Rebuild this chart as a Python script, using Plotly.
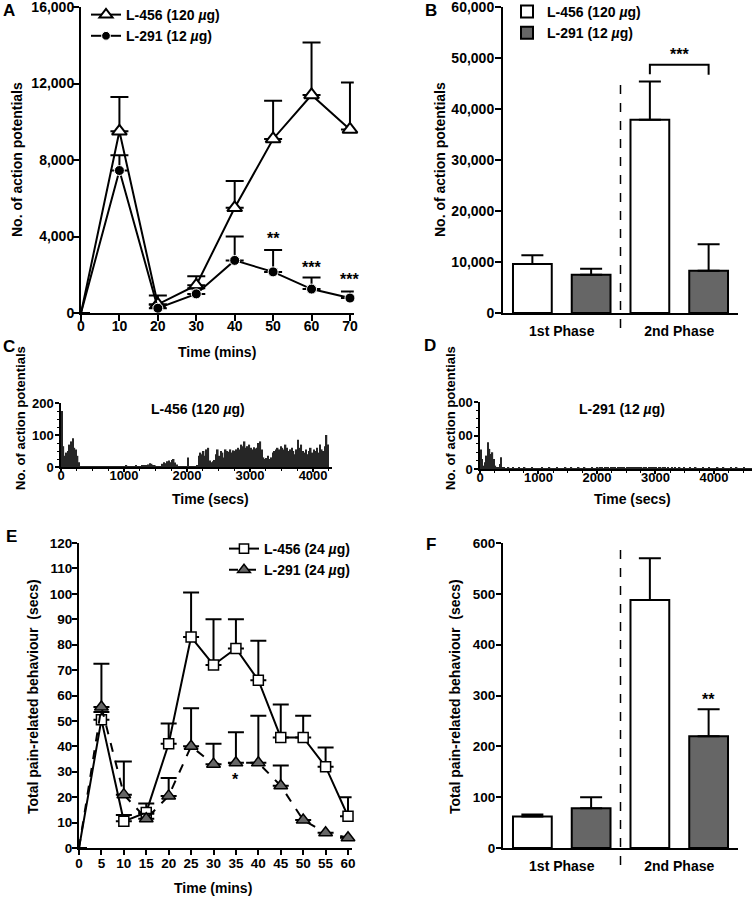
import plotly.graph_objects as go

# ---------------- DATA ----------------
# Panel A: action potentials per 10-min bin
time_A = [0, 10, 20, 30, 40, 50, 60, 70]
l456_A = [0, 9500, 450, 1450, 5500, 9100, 11400, 9600]
l456_A_err = [0, 1800, 460, 470, 1400, 2000, 2750, 2450]
l291_A = [0, 7450, 250, 1000, 2750, 2150, 1250, 780]
l291_A_err = [0, 800, 200, 300, 1250, 1150, 600, 350]
stars_A = ["**", "***", "***"]
stars_A_x = [50, 60, 70]
stars_A_y = [3900, 2400, 1750]

# Panel B: phase totals
phase_labels = ["1st Phase", "2nd Phase"]
l456_B = [9600, 37900]
l456_B_err = [1700, 7500]
l291_B = [7500, 8300]
l291_B_err = [1200, 5200]

# Panel C / D: histograms (25 s bins)
bin_w = 25
hist_C = [175, 65, 35, 45, 50, 70, 80, 90, 60, 55, 35, 15,
          2, 1, 2, 3, 1, 2, 2, 1, 3, 2, 1, 2, 2, 3, 1, 2, 2, 1, 2, 3,
          2, 1, 2, 2, 3, 2, 1, 2, 2, 4, 2, 1, 3, 2, 2, 5, 2, 3, 2, 4,
          4, 5, 6, 8, 12, 10, 6, 4,
          2, 3, 2, 3,
          10, 15, 12, 18, 20, 15, 22, 25, 14, 8,
          3, 2, 3, 2, 3, 2,
          30,
          3, 2, 3, 2, 3, 4,
          35, 45, 40, 50, 35, 55, 60,
          20, 15, 18, 22,
          40, 55, 35, 50, 45, 30,
          55, 50, 48, 55, 45, 52, 50, 55,
          60, 55, 70, 65, 80, 60, 65, 70,
          60, 55, 62, 58, 60, 75, 80, 55,
          30, 25, 28, 35, 25, 30,
          45, 50, 55, 60, 55, 65, 60, 55, 70, 60, 50, 55, 60, 50,
          40, 55, 85, 60, 70, 50,
          45, 55, 40, 50, 60, 45,
          55, 50, 60, 45, 70, 55, 50, 65, 100, 70]
hist_D = [58, 30, 10, 20, 40, 80, 60, 45, 50, 30, 10, 3, 5, 15, 35, 5,
          3, 2, 2, 3, 2, 2, 3, 2, 2, 2, 3, 2, 2, 2, 3, 2, 2, 2, 2, 3, 2, 2, 2, 2,
          2, 2, 3, 2, 2, 2, 2, 3, 2, 2, 2, 2, 3, 2, 2, 2, 2, 2, 3, 2,
          2, 2, 3, 2, 2, 2, 2, 3, 2, 2, 2, 3, 2, 2, 2, 2, 3, 2, 2, 2,
          3, 2, 3, 3, 2, 3, 4, 3, 2, 3, 4, 3, 3, 2, 3, 3, 4, 3, 3, 2,
          3, 4, 3, 3, 5, 4, 3, 3, 4, 3, 3, 2, 3, 3, 2, 3, 3, 4, 3, 3,
          3, 2, 3, 4, 2, 3, 3, 2, 3, 2, 2, 3, 2, 3, 2, 2, 3, 2, 2, 3,
          2, 2, 2, 3, 2, 2, 2, 3, 2, 2, 2, 2, 3, 2, 2, 2, 3, 2, 2, 2,
          2, 2, 3, 2, 2, 2, 3, 2, 2, 2, 2, 3, 2, 2, 2, 3, 2, 2, 2, 2, 3, 2, 2, 2, 2, 2]
d_ticktext = ["0", "00", "00"]

# Panel E: pain behaviour per 5-min bin
time_E = [0, 5, 10, 15, 20, 25, 30, 35, 40, 45, 50, 55, 60]
l456_E = [0, 50.5, 10.5, 14, 41, 83, 72, 78.5, 66, 43.5, 43.5, 32, 12.5]
l456_E_err = [0, 3, 2.5, 3.5, 8, 17.5, 18, 11.5, 15.5, 13, 8.5, 7.5, 7.5]
l291_E = [0, 55.5, 21, 11.5, 20.5, 40, 33, 33.5, 33.5, 24.5, 11, 6, 4]
l291_E_err = [0, 17, 13, 2, 7, 15, 8, 12, 18.5, 8, 0, 0, 0]

# Panel F: phase totals
l456_F = [62, 488]
l456_F_err = [4, 82]
l291_F = [78, 220]
l291_F_err = [22, 53]

# ---------------- LAYOUT HELPERS ----------------
W, H = 754, 899
FONT = "Liberation Sans, Arial, Helvetica, sans-serif"
def fx(px): return px / W
def fy(py): return 1 - py / H

fig = go.Figure()

def sizes(n, s):
    return [0] + [s] * (n - 1)

# ---- Panel A ----
fig.add_trace(go.Scatter(
    x=time_A, y=l456_A, mode="lines+markers", name="L-456 (120 <i>µ</i>g)",
    line=dict(color="black", width=2),
    marker=dict(symbol="triangle-up", size=sizes(len(time_A), 13), color="white", opacity=1,
                line=dict(color="black", width=2)),
    error_y=dict(type="data", array=l456_A_err, arrayminus=[0]*len(l456_A_err), symmetric=False,
                 color="black", thickness=2, width=9),
    xaxis="x", yaxis="y", legend="legend", cliponaxis=False))
fig.add_trace(go.Scatter(
    x=time_A, y=l291_A, mode="lines+markers", name="L-291 (12 <i>µ</i>g)",
    line=dict(color="black", width=2),
    marker=dict(symbol="circle", size=sizes(len(time_A), 10), color="black", opacity=1),
    error_y=dict(type="data", array=l291_A_err, arrayminus=[0]*len(l291_A_err), symmetric=False,
                 color="black", thickness=2, width=9),
    xaxis="x", yaxis="y", legend="legend", cliponaxis=False))

# ---- Panel B ----
pos_l456 = [1, 3]
pos_l291 = [2, 4]
fig.add_trace(go.Bar(x=pos_l456, y=l456_B, width=0.66, name="L-456 (120 <i>µ</i>g)",
                     marker=dict(color="white", line=dict(color="black", width=2)),
                     error_y=dict(type="data", array=l456_B_err, arrayminus=[0, 0], symmetric=False,
                                  color="black", thickness=2, width=11),
                     xaxis="x2", yaxis="y2", legend="legend2"))
fig.add_trace(go.Bar(x=pos_l291, y=l291_B, width=0.66, name="L-291 (12 <i>µ</i>g)",
                     marker=dict(color="#666666", line=dict(color="black", width=2)),
                     error_y=dict(type="data", array=l291_B_err, arrayminus=[0, 0], symmetric=False,
                                  color="black", thickness=2, width=11),
                     xaxis="x2", yaxis="y2", legend="legend2"))

# ---- Panel C / D histograms ----
xC = [i * bin_w + bin_w / 2 for i in range(len(hist_C))]
xD = [i * bin_w + bin_w / 2 for i in range(len(hist_D))]
fig.add_trace(go.Bar(x=xC, y=hist_C, width=bin_w, marker=dict(color="#262626", line=dict(width=0)),
                     showlegend=False, xaxis="x3", yaxis="y3"))
fig.add_trace(go.Bar(x=xD, y=hist_D, width=bin_w, marker=dict(color="#262626", line=dict(width=0)),
                     showlegend=False, xaxis="x4", yaxis="y4"))

# ---- Panel E ----
fig.add_trace(go.Scatter(
    x=time_E, y=l456_E, mode="lines+markers", name="L-456 (24 <i>µ</i>g)",
    line=dict(color="black", width=2),
    marker=dict(symbol="square", size=sizes(len(time_E), 10), color="white", opacity=1,
                line=dict(color="black", width=1.5)),
    error_y=dict(type="data", array=l456_E_err, arrayminus=[0]*len(l456_E_err), symmetric=False,
                 color="black", thickness=2, width=8),
    xaxis="x5", yaxis="y5", legend="legend3", cliponaxis=False))
fig.add_trace(go.Scatter(
    x=time_E, y=l291_E, mode="lines+markers", name="L-291 (24 <i>µ</i>g)",
    line=dict(color="black", width=2, dash="dash"),
    marker=dict(symbol="triangle-up", size=sizes(len(time_E), 12), color="#666666", opacity=1,
                line=dict(color="black", width=1.5)),
    error_y=dict(type="data", array=l291_E_err, arrayminus=[0]*len(l291_E_err), symmetric=False,
                 color="black", thickness=2, width=8),
    xaxis="x5", yaxis="y5", legend="legend3", cliponaxis=False))

# ---- Panel F ----
fig.add_trace(go.Bar(x=pos_l456, y=l456_F, width=0.66, showlegend=False,
                     marker=dict(color="white", line=dict(color="black", width=2)),
                     error_y=dict(type="data", array=l456_F_err, arrayminus=[0, 0], symmetric=False,
                                  color="black", thickness=2, width=11),
                     xaxis="x6", yaxis="y6"))
fig.add_trace(go.Bar(x=pos_l291, y=l291_F, width=0.66, showlegend=False,
                     marker=dict(color="#666666", line=dict(color="black", width=2)),
                     error_y=dict(type="data", array=l291_F_err, arrayminus=[0, 0], symmetric=False,
                                  color="black", thickness=2, width=11),
                     xaxis="x6", yaxis="y6"))

# ---------------- AXES ----------------
def tf(size):
    return dict(size=size, color="black", family=FONT, weight=700)

def ax(domain, rng, **kw):
    d = dict(domain=domain, range=rng, showline=True, linecolor="black", linewidth=2,
             ticks="outside", ticklen=6, tickwidth=2, tickcolor="black", showgrid=False,
             zeroline=False, tickfont=tf(14), fixedrange=True, ticklabeloverflow="allow")
    d.update(kw)
    return d

small_minor_x = dict(dtick=250, ticks="outside", ticklen=2, tickcolor="black", tickwidth=1)
small_minor_y = dict(dtick=25, ticks="outside", ticklen=2, tickcolor="black", tickwidth=1)
phase_pos = [1.5, 3.5]
lay = dict(
    xaxis=ax([fx(81), fx(353.8)], [0, 71], anchor="y", tickvals=time_A, ticklabelstandoff=-7),
    yaxis=ax([fy(313), fy(7)], [0, 16000], anchor="x", tickvals=[0, 4000, 8000, 12000, 16000],
             tickformat=",", ticklabelstandoff=-4),
    xaxis2=ax([fx(503), fx(738)], [0.5, 4.5], anchor="y2", ticks="", tickvals=phase_pos,
              ticktext=phase_labels, ticklabelstandoff=4),
    yaxis2=ax([fy(313), fy(7)], [0, 60000], anchor="x2", dtick=10000, tickformat=",",
              ticklabelstandoff=-2),
    xaxis3=ax([fx(61), fx(332)], [0, 4300], anchor="y3", tickvals=[0, 1000, 2000, 3000, 4000],
              linewidth=1.5, tickwidth=1.5, ticklen=3, minor=small_minor_x, tickfont=tf(13),
              ticklabelstandoff=-7),
    yaxis3=ax([fy(467), fy(403)], [0, 200], anchor="x3", tickvals=[0, 100, 200],
              linewidth=1.5, tickwidth=1.5, ticklen=4, minor=small_minor_y, tickfont=tf(13),
              ticklabelstandoff=-1),
    xaxis4=ax([fx(480), fx(752)], [0, 4650], anchor="y4", tickvals=[0, 1000, 2000, 3000, 4000],
              linewidth=1.5, tickwidth=1.5, ticklen=3, minor=small_minor_x, tickfont=tf(13),
              ticklabelstandoff=-7),
    yaxis4=ax([fy(469), fy(402)], [0, 200], anchor="x4", tickvals=[0, 100, 200], ticktext=d_ticktext,
              linewidth=1.5, tickwidth=1.5, ticklen=4, minor=small_minor_y, tickfont=tf(13),
              ticklabelstandoff=-1),
    xaxis5=ax([fx(79), fx(351.6)], [0, 60.8], anchor="y5", tickvals=time_E, tickfont=tf(13.5),
              ticklen=5, ticklabelstandoff=-3),
    yaxis5=ax([fy(848), fy(543)], [0, 120], anchor="x5", dtick=10, tickfont=tf(13.5),
              ticklen=5, ticklabelstandoff=-3),
    xaxis6=ax([fx(503), fx(738)], [0.5, 4.5], anchor="y6", ticks="", tickvals=phase_pos,
              ticktext=phase_labels, ticklabelstandoff=4),
    yaxis6=ax([fy(848), fy(543)], [0, 600], anchor="x6", dtick=100, tickfont=tf(13.5),
              ticklen=5, ticklabelstandoff=-2),
)
fig.update_layout(**lay)

# ---------------- LEGENDS ----------------
legfont = tf(14)
fig.update_layout(
    legend=dict(x=fx(86), y=fy(-1), xanchor="left", yanchor="top", font=legfont,
                bgcolor="rgba(0,0,0,0)", tracegroupgap=0, itemwidth=30),
    legend2=dict(x=fx(507), y=fy(-4), xanchor="left", yanchor="top", font=legfont,
                 bgcolor="rgba(0,0,0,0)", tracegroupgap=0, itemwidth=30),
    legend3=dict(x=fx(224), y=fy(533), xanchor="left", yanchor="top", font=legfont,
                 bgcolor="rgba(0,0,0,0)", tracegroupgap=0, itemwidth=30),
)

# ---------------- ANNOTATIONS ----------------
ann = []
def txt(x, y, t, size=14, xref="paper", yref="paper", angle=0, **kw):
    a = dict(x=x, y=y, xref=xref, yref=yref, text=t, showarrow=False, textangle=angle,
             font=tf(size), xanchor="center", yanchor="middle")
    a.update(kw)
    ann.append(a)

# panel letters
txt(fx(9), fy(11), "A", size=17)
txt(fx(431), fy(11), "B", size=17)
txt(fx(9), fy(346), "C", size=17)
txt(fx(430), fy(345), "D", size=17)
txt(fx(11), fy(536), "E", size=17)
txt(fx(431), fy(544), "F", size=17)

# axis titles
txt(fx(17), fy(160), "No. of action potentials", angle=-90)
txt(fx(440), fy(160), "No. of action potentials", angle=-90)
txt(fx(217), fy(352), "Time (mins)")
txt(fx(21), fy(418), "No. of action potentials", size=13, angle=-90)
txt(fx(451), fy(418), "No. of action potentials", size=13, angle=-90)
txt(fx(210), fy(499), "Time (secs)")
txt(fx(632), fy(499), "Time (secs)")
txt(fx(33), fy(697), "Total pain-related behaviour  (secs)", angle=-90)
txt(fx(455), fy(697), "Total pain-related behaviour  (secs)", angle=-90)
txt(fx(213), fy(888), "Time (mins)")

# histogram titles
txt(fx(198), fy(409), "L-456 (120 <i>µ</i>g)")
txt(fx(622), fy(409), "L-291 (12 <i>µ</i>g)")

# significance stars
for sx, sy, st in zip(stars_A_x, stars_A_y, stars_A):
    txt(sx, sy, st, size=16, xref="x", yref="y")
txt(3.5, 50700, "***", size=16, xref="x2", yref="y2")
txt(4, 292, "**", size=16, xref="x6", yref="y6")
txt(35, 27, "*", size=16, xref="x5", yref="y5")

fig.update_layout(annotations=ann)

# ---------------- SHAPES ----------------
shapes = [
    dict(type="line", xref="x2", yref="y2 domain", x0=2.5, x1=2.5, y0=-0.049, y1=0.758,
         line=dict(color="black", width=1.5, dash="dash")),
    dict(type="line", xref="x6", yref="y6 domain", x0=2.5, x1=2.5, y0=-0.056, y1=1.0,
         line=dict(color="black", width=1.5, dash="dash")),
    dict(type="path", xref="x2", yref="y2",
         path="M 3,46800 L 3,48700 L 4,48700 L 4,46700",
         line=dict(color="black", width=2)),
]
fig.update_layout(shapes=shapes)

fig.update_layout(
    width=W, height=H, margin=dict(l=0, r=0, t=0, b=0, pad=0, autoexpand=False),
    paper_bgcolor="white", plot_bgcolor="white",
    font=dict(family=FONT, color="black", weight=700),
    barmode="overlay", showlegend=True,
)

# remove the browser's default 8px body margin so the figure sits at (0, 0)
fig.write_html("out.html", config={"displayModeBar": False},
               post_script="document.body.style.margin='0';")
